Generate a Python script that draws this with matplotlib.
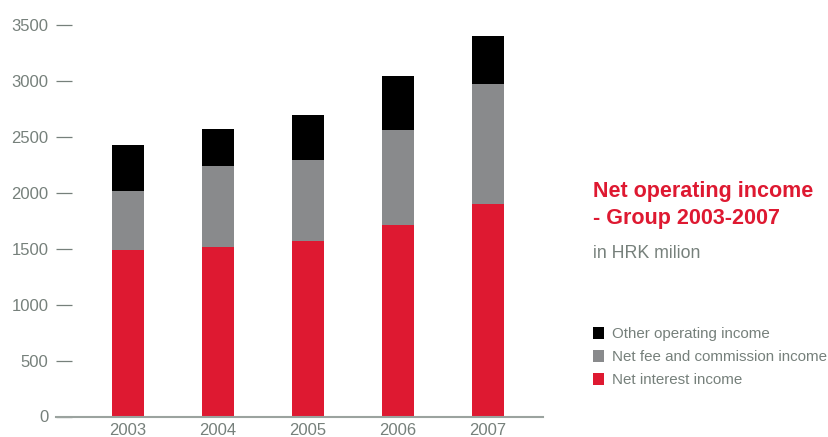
import matplotlib
matplotlib.use("Agg")
import matplotlib.pyplot as plt
from matplotlib.patches import Rectangle

plt.rcParams['font.family'] = ['Liberation Sans', 'DejaVu Sans']

years = ["2003", "2004", "2005", "2006", "2007"]
net_interest = [1485, 1512, 1566, 1708, 1904]
net_fee = [535, 723, 723, 849, 1073]
other_income = [403, 331, 402, 483, 429]
yticks = [0, 500, 1000, 1500, 2000, 2500, 3000, 3500]

RED = "#DE1931"
GREY = "#898A8C"
BLACK = "#000000"
TEXT = "#76807B"
AXIS = "#9BA39F"

W, H = 829, 437
fig = plt.figure(figsize=(W / 100, H / 100), dpi=100)
fig.patch.set_facecolor("white")

# axes box in pixel terms: left 56, right 543, baseline 416.5, top (3500) 25
ax = fig.add_axes([56 / W, (H - 416.5) / H, (543 - 56) / W, (416.5 - 25) / H])
x = list(range(len(years)))
bw = 0.356
ax.bar(x, net_interest, width=bw, color=RED, linewidth=0)
bottom2 = net_interest
ax.bar(x, net_fee, width=bw, bottom=bottom2, color=GREY, linewidth=0)
bottom3 = [a + b for a, b in zip(net_interest, net_fee)]
ax.bar(x, other_income, width=bw, bottom=bottom3, color=BLACK, linewidth=0)

ax.set_xlim(-0.8, 4.611)
ax.set_ylim(0, 3500)
ax.set_xticks(x)
ax.set_xticklabels(years)
ax.set_yticks(yticks)
ax.set_yticklabels([str(v) for v in yticks])

for s in ["top", "right", "left"]:
    ax.spines[s].set_visible(False)
ax.spines["bottom"].set_color(AXIS)
ax.spines["bottom"].set_linewidth(1.5)

ax.tick_params(axis="y", direction="in", length=11.5, width=0.9, color=TEXT,
               pad=5.5, labelsize=12, labelcolor=TEXT)
ax.tick_params(axis="x", length=0, pad=4.5, labelsize=12, labelcolor=TEXT)
ax.set_facecolor("none")


def ftext(px, py, s, **kw):
    fig.text(px / W, 1 - py / H, s, **kw)


ftext(593, 197, "Net operating income", color=RED, fontsize=15.5,
      fontweight="bold", va="baseline")
ftext(593, 224, "- Group 2003-2007", color=RED, fontsize=15.5,
      fontweight="bold", va="baseline")
ftext(593, 258, "in HRK milion", color=TEXT, fontsize=12.8, va="baseline")

legend_items = [("Other operating income", BLACK),
                ("Net fee and commission income", GREY),
                ("Net interest income", RED)]
for i, (label, col) in enumerate(legend_items):
    top = 327 + 23 * i
    fig.patches.append(Rectangle((593 / W, 1 - (top + 11.5) / H), 11.5 / W, 11.5 / H,
                                 transform=fig.transFigure, facecolor=col,
                                 edgecolor="none"))
    ftext(612, top + 11, label, color=TEXT, fontsize=10.9, va="baseline")

fig.savefig("out.png", dpi=100, facecolor="white")
